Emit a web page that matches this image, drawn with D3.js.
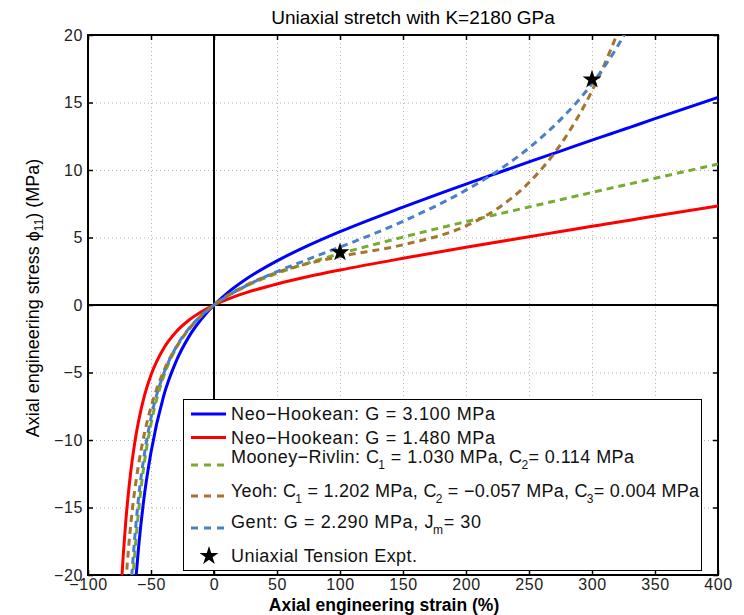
<!DOCTYPE html>
<html>
<head>
<meta charset="utf-8">
<script src="https://cdn.jsdelivr.net/npm/d3@7/dist/d3.min.js"></script>
<style>
  html, body { margin: 0; padding: 0; background: #fff; }
  svg { display: block; font-family: "Liberation Sans", Arial, Helvetica, sans-serif; }
</style>
</head>
<body>
<svg id="chart" width="744" height="615"></svg>
<script>
// ---------- data ----------
const strain = [-74, -72, -70, -68, -66, -64, -62, -60, -55, -50, -40, -30, -20, -10, 0,
                10, 25, 50, 75, 100, 150, 200, 225, 250, 275, 300, 310, 320, 330, 350, 400];

const neoHookeanHigh = [-45.1, -38.7, -33.5, -29.3, -25.8, -22.8, -20.3, -18.1, -13.9, -10.9, -6.75, -4.16, -2.36, -1.04, 0,
                        0.85, 1.89, 3.27, 4.41, 5.43, 7.25, 8.96, 9.78, 10.60, 11.40, 12.21, 12.53, 12.84, 13.16, 13.80, 15.38];
const neoHookeanLow  = [-21.5, -18.5, -16.0, -14.0, -12.3, -10.9, -9.69, -8.66, -6.64, -5.18, -3.22, -1.98, -1.13, -0.50, 0,
                        0.40, 0.90, 1.56, 2.11, 2.59, 3.46, 4.28, 4.67, 5.06, 5.44, 5.83, 5.98, 6.13, 6.28, 6.59, 7.34];
const mooneyRivlin   = [-42.7, -35.9, -30.5, -26.2, -22.7, -19.8, -17.4, -15.4, -11.5, -8.81, -5.31, -3.20, -1.79, -0.77, 0,
                        0.62, 1.37, 2.34, 3.12, 3.80, 5.03, 6.17, 6.72, 7.26, 7.80, 8.34, 8.55, 8.76, 8.97, 9.39, 10.44];
const yeoh           = [-27.6, -23.7, -20.7, -18.2, -16.2, -14.5, -13.1, -11.9, -9.42, -7.56, -4.92, -3.12, -1.81, -0.80, 0,
                        0.66, 1.44, 2.41, 3.08, 3.59, 4.46, 5.86, 7.15, 9.07, 11.88, 15.86, 17.85, 20.1, 22.6, 28.7, 50.8];
const gent           = [-39.6, -33.2, -28.3, -24.4, -21.1, -18.5, -16.3, -14.4, -10.9, -8.36, -5.11, -3.11, -1.75, -0.77, 0,
                        0.63, 1.40, 2.47, 3.40, 4.29, 6.20, 8.51, 9.93, 11.64, 13.73, 16.39, 17.68, 19.12, 20.77, 24.8, 44.8];

const exptStrain = [100, 300];
const exptStress = [3.9, 16.7];

const xTicks = [-100, -50, 0, 50, 100, 150, 200, 250, 300, 350, 400];
const yTicks = [-20, -15, -10, -5, 0, 5, 10, 15, 20];

const titleText = "Uniaxial stretch with K=2180 GPa";
const xLabelText = "Axial engineering strain (%)";

// ---------- layout ----------
const svg = d3.select("#chart");
const L = 88, R = 718, T = 35, B = 575;
const x = d3.scaleLinear().domain([-100, 400]).range([L, R]);
const y = d3.scaleLinear().domain([-20, 20]).range([B, T]);
const fmt = v => (v < 0 ? "\u2212" + Math.abs(v) : String(v));

svg.append("defs").append("clipPath").attr("id", "plotclip")
  .append("rect").attr("x", L).attr("y", T).attr("width", R - L).attr("height", B - T);

// grid (dotted)
const grid = svg.append("g").attr("stroke", "#b4b4b4").attr("stroke-width", 1).attr("stroke-dasharray", "1,3");
grid.selectAll("line.gx").data(xTicks.slice(1, -1)).join("line")
  .attr("x1", d => x(d) + 0.5).attr("x2", d => x(d) + 0.5).attr("y1", T).attr("y2", B);
grid.selectAll("line.gy").data(yTicks.slice(1, -1)).join("line")
  .attr("y1", d => y(d) + 0.5).attr("y2", d => y(d) + 0.5).attr("x1", L).attr("x2", R);

// zero lines
svg.append("line").attr("x1", x(0)).attr("x2", x(0)).attr("y1", T).attr("y2", B)
  .attr("stroke", "#000").attr("stroke-width", 2);
svg.append("line").attr("x1", L).attr("x2", R).attr("y1", y(0)).attr("y2", y(0))
  .attr("stroke", "#000").attr("stroke-width", 2);

// axes with inward ticks on all sides
const tickLen = 5;
const axB = svg.append("g").attr("transform", `translate(0,${B})`)
  .call(d3.axisBottom(x).tickValues(xTicks).tickSize(-tickLen).tickPadding(4).tickFormat(fmt));
const axT = svg.append("g").attr("transform", `translate(0,${T})`)
  .call(d3.axisTop(x).tickValues(xTicks).tickSize(-tickLen).tickFormat(""));
const axL = svg.append("g").attr("transform", `translate(${L},0)`)
  .call(d3.axisLeft(y).tickValues(yTicks).tickSize(-tickLen).tickPadding(4).tickFormat(fmt));
const axR = svg.append("g").attr("transform", `translate(${R},0)`)
  .call(d3.axisRight(y).tickValues(yTicks).tickSize(-tickLen).tickFormat(""));
[axB, axT, axL, axR].forEach(a => {
  a.select(".domain").remove();
  a.selectAll(".tick line").attr("stroke", "#000").attr("stroke-width", 1.5);
  a.selectAll("text").attr("fill", "#222").attr("font-size", 16).attr("letter-spacing", "0.6px")
    .attr("font-family", "\"Liberation Sans\", Arial, sans-serif");
});
axB.selectAll("text").attr("dy", "0.71em");
axL.selectAll("text").attr("dx", "-1px");

// frame
svg.append("rect").attr("x", L).attr("y", T).attr("width", R - L).attr("height", B - T)
  .attr("fill", "none").attr("stroke", "#000").attr("stroke-width", 2);

// series
const series = [
  { name: "nh1", values: neoHookeanHigh, color: "#0000ff", dash: null },
  { name: "nh2", values: neoHookeanLow,  color: "#ff0000", dash: null },
  { name: "mr",  values: mooneyRivlin,   color: "#77ac30", dash: "7,5" },
  { name: "yeoh",values: yeoh,           color: "#a5752d", dash: "7,5" },
  { name: "gent",values: gent,           color: "#4a7fc9", dash: "7,5" }
];
const line = d3.line().x(d => x(d[0])).y(d => y(d[1])).curve(d3.curveMonotoneX);
const plot = svg.append("g").attr("clip-path", "url(#plotclip)");
series.forEach(s => {
  plot.append("path")
    .datum(strain.map((e, i) => [e, s.values[i]]))
    .attr("d", line)
    .attr("fill", "none")
    .attr("stroke", s.color)
    .attr("stroke-width", 3)
    .attr("stroke-dasharray", s.dash);
});

// experimental points
const star = d3.symbol().type(d3.symbolStar).size(110);
plot.selectAll("path.star").data(exptStrain.map((e, i) => [e, exptStress[i]])).join("path")
  .attr("class", "star")
  .attr("d", star)
  .attr("transform", d => `translate(${x(d[0])},${y(d[1])})`)
  .attr("fill", "#000");

// title & axis labels
svg.append("text").attr("x", 413).attr("y", 24).attr("text-anchor", "middle")
  .attr("font-size", 19).attr("fill", "#000").text(titleText);
svg.append("text").attr("x", 384).attr("y", 611).attr("text-anchor", "middle")
  .attr("font-size", 17.5).attr("font-weight", "bold").attr("fill", "#000").text(xLabelText);
const yl = svg.append("text").attr("transform", "translate(39,298) rotate(-90)")
  .attr("text-anchor", "middle").attr("font-size", 18).attr("fill", "#000");
yl.append("tspan").text("Axial engineering stress \u03d5");
yl.append("tspan").attr("font-size", 12).attr("dy", 4).text("11");
yl.append("tspan").attr("dy", -4).text(") (MPa)");

// legend
const lg = svg.append("g");
lg.append("rect").attr("x", 183.5).attr("y", 399.5).attr("width", 518).attr("height", 171)
  .attr("fill", "#fff").attr("stroke", "#000").attr("stroke-width", 1);
const legendRows = [
  { color: "#0000ff", dash: null,  ly: 414,   ty: 420, w: 264, parts: [["Neo\u2212Hookean: G = 3.100 MPa"]] },
  { color: "#ff0000", dash: null,  ly: 437.5, ty: 444, w: 264, parts: [["Neo\u2212Hookean: G = 1.480 MPa"]] },
  { color: "#77ac30", dash: "7,6", ly: 465,   ty: 463, w: 403, parts: [["Mooney\u2212Rivlin: C"], ["1", "sub"], [" = 1.030 MPa, C"], ["2", "sub"], ["= 0.114 MPa"]] },
  { color: "#a5752d", dash: "7,6", ly: 496,   ty: 497, w: 468, parts: [["Yeoh: C"], ["1", "sub"], [" = 1.202 MPa, C"], ["2", "sub"], [" = \u22120.057 MPa, C"], ["3", "sub"], ["= 0.004 MPa"]] },
  { color: "#4a7fc9", dash: "7,6", ly: 528,   ty: 528, w: 250, parts: [["Gent: G = 2.290 MPa, J"], ["m", "sub"], ["= 30"]] },
  { star: true,                    ly: 556,   ty: 562, w: 186, parts: [["Uniaxial Tension Expt."]] }
];
legendRows.forEach(r => {
  if (r.star) {
    lg.append("path").attr("d", star).attr("transform", `translate(209,${r.ly})`).attr("fill", "#000");
  } else {
    lg.append("line").attr("x1", 191).attr("x2", 226).attr("y1", r.ly).attr("y2", r.ly)
      .attr("stroke", r.color).attr("stroke-width", 3).attr("stroke-dasharray", r.dash);
  }
  const t = lg.append("text").attr("x", 231).attr("y", r.ty).attr("font-size", 18)
    .attr("textLength", r.w).attr("lengthAdjust", "spacing").attr("fill", "#111");
  let shifted = false;
  r.parts.forEach(p => {
    const ts = t.append("tspan").text(p[0]);
    if (p[1] === "sub") { ts.attr("font-size", 12).attr("dy", 6).attr("dx", -1); shifted = true; }
    else if (shifted) { ts.attr("dy", -6); shifted = false; }
  });
});
</script>
</body>
</html>
